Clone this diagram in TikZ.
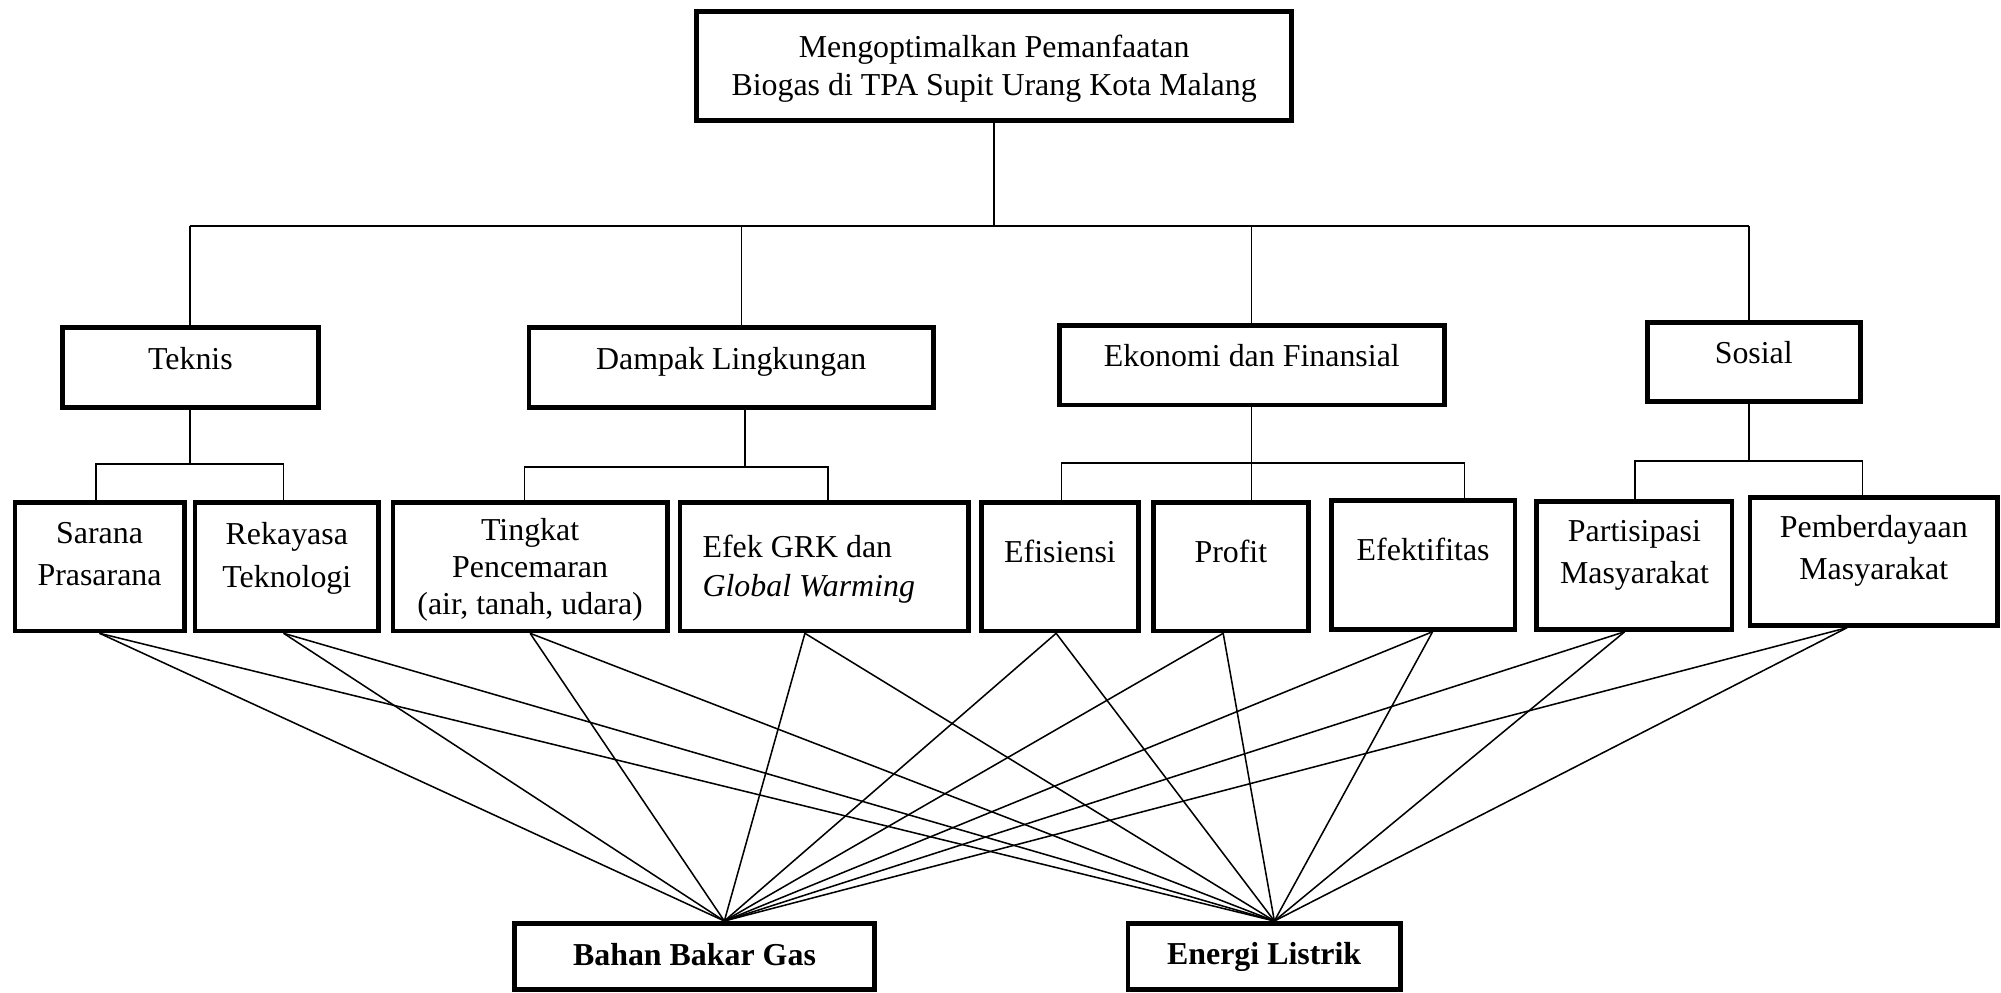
\documentclass[tikz,border=0pt]{standalone}
\usepackage{fontspec}
\setmainfont{Liberation Serif}
\usetikzlibrary{calc}
\tikzset{
  box/.style 2 args={draw,line width=3.6pt,minimum width=#1,minimum height=#2,inner sep=0pt},
  link/.style={line width=1.3pt},
  fan/.style={line width=1.2pt},
  every label/.style={align=center,inner sep=0pt}
}
\begin{document}
\begin{tikzpicture}[x=1pt,y=-1pt,font=\fontsize{25}{30}\selectfont]
\useasboundingbox (0,0) rectangle (1568,778);
\node[box={466.4pt}{85.4pt},label={[name=top-t,yshift=-2.5pt]center:{Mengoptimalkan Pemanfaatan\\Biogas di TPA Supit Urang Kota Malang}}] (top) at (779,51.5) {};

\node[box={200.4pt}{63pt},label={[name=tek-t,yshift=7pt]center:Teknis}] (tek) at (149.2,288) {};
\node[box={316.9pt}{63pt},label={[name=dam-t,yshift=4.5pt]center:Dampak Lingkungan}] (dam) at (573,288) {};
\node[box={301.6pt}{62.2pt},label={[name=eko-t,yshift=7.5pt]center:Ekonomi dan Finansial}] (eko) at (980.9,286.3) {};
\node[box={166.9pt}{62.2pt},label={[name=sos-t,yshift=7.5pt]center:Sosial}] (sos) at (1374.25,283.7) {};

\node[box={132.8pt}{100.9pt},label={[name=sar-t,yshift=9.5pt]center:{Sarana\\[3pt]Prasarana}}] (sar) at (78,444) {};
\node[box={143.7pt}{100.9pt},label={[name=rek-t,yshift=6.5pt]center:{Rekayasa\\[3pt]Teknologi}}] (rek) at (224.75,444) {};
\node[box={215pt}{100.9pt},label={[name=tin-t,yshift=-2.5pt]center:{Tingkat\\[-1pt]Pencemaran\\[-1pt](air, tanah, udara)}}] (tin) at (415.4,444) {};
\node[box={225.9pt}{100.9pt},label={[name=efe-t,align=left,xshift=-12pt,yshift=-2pt]center:{Efek GRK dan\\\textit{Global Warming}}}] (efe) at (645.75,444) {};
\node[box={123.2pt}{100.9pt},label={[name=efs-t,yshift=12pt]center:Efisiensi}] (efs) at (830.6,444) {};
\node[box={121.6pt}{100.9pt},label={[name=pro-t,yshift=12pt]center:Profit}] (pro) at (964.5,444) {};
\node[box={144pt}{100.9pt},label={[name=efk-t,yshift=12.5pt]center:Efektifitas}] (efk) at (1115.2,442.75) {};
\node[box={153.1pt}{100.4pt},label={[name=par-t,yshift=7.5pt]center:{Partisipasi\\[3pt]Masyarakat}}] (par) at (1280.75,443) {};
\node[box={193.8pt}{100.4pt},label={[name=pem-t,yshift=8pt]center:{Pemberdayaan\\[3pt]Masyarakat}}] (pem) at (1468.3,439.9) {};

\node[box={282.4pt}{52pt},label={[name=gas-t,yshift=1.5pt]center:\bfseries Bahan Bakar Gas}] (gas) at (544.2,749.5) {};
\node[box={213.6pt}{52pt},label={[name=lis-t]center:\bfseries Energi Listrik}] (lis) at (990.6,749.5) {};

\coordinate (b-tek) at (148.7,177);
\coordinate (b-dam) at (581,177);
\coordinate (b-eko) at (980.6,177);
\coordinate (b-sos) at (1370.6,177);
\draw[link] (top.south) -- (top.south |- b-tek);
\draw[link] (b-tek) -- (b-sos);
\foreach \c in {tek,dam,eko,sos}
{
\draw[link] (b-\c) -- (b-\c |- \c.north);
}

\foreach \p/\x/\y/\xl/\xr/\cl/\cr in {tek/148.7/363.6/75/222.2/sar/rek,dam/583.8/365.7/411/648.6/tin/efe,eko/980.6/363/831.9/1147.5/efs/efk,sos/1370.6/361.3/1281/1459.5/par/pem}
{
\coordinate (s-\p) at (\x,\y);
\coordinate (l-\p) at (\xl,\y);
\coordinate (r-\p) at (\xr,\y);
\draw[link] (s-\p |- \p.south) -- (s-\p);
\draw[link] (l-\p |- \cl.north) -- (l-\p) -- (r-\p) -- (r-\p |- \cr.north);
}
\draw[link] (s-eko) -- (s-eko |- pro.north);

\coordinate (gas-in) at ($(gas.north)+(23.4,0)$);
\coordinate (lis-in) at ($(lis.north)+(8,0)$);
\foreach \b/\dx in {sar/0,rek/-2.5,tin/0,efe/-15,efs/-3,pro/-6,efk/7.4,par/-7.6,pem/-21}
{
\draw[fan] ($(\b.south)+(\dx,0)$) -- (gas-in);
\draw[fan] ($(\b.south)+(\dx,0)$) -- (lis-in);
}
\end{tikzpicture}
\end{document}
